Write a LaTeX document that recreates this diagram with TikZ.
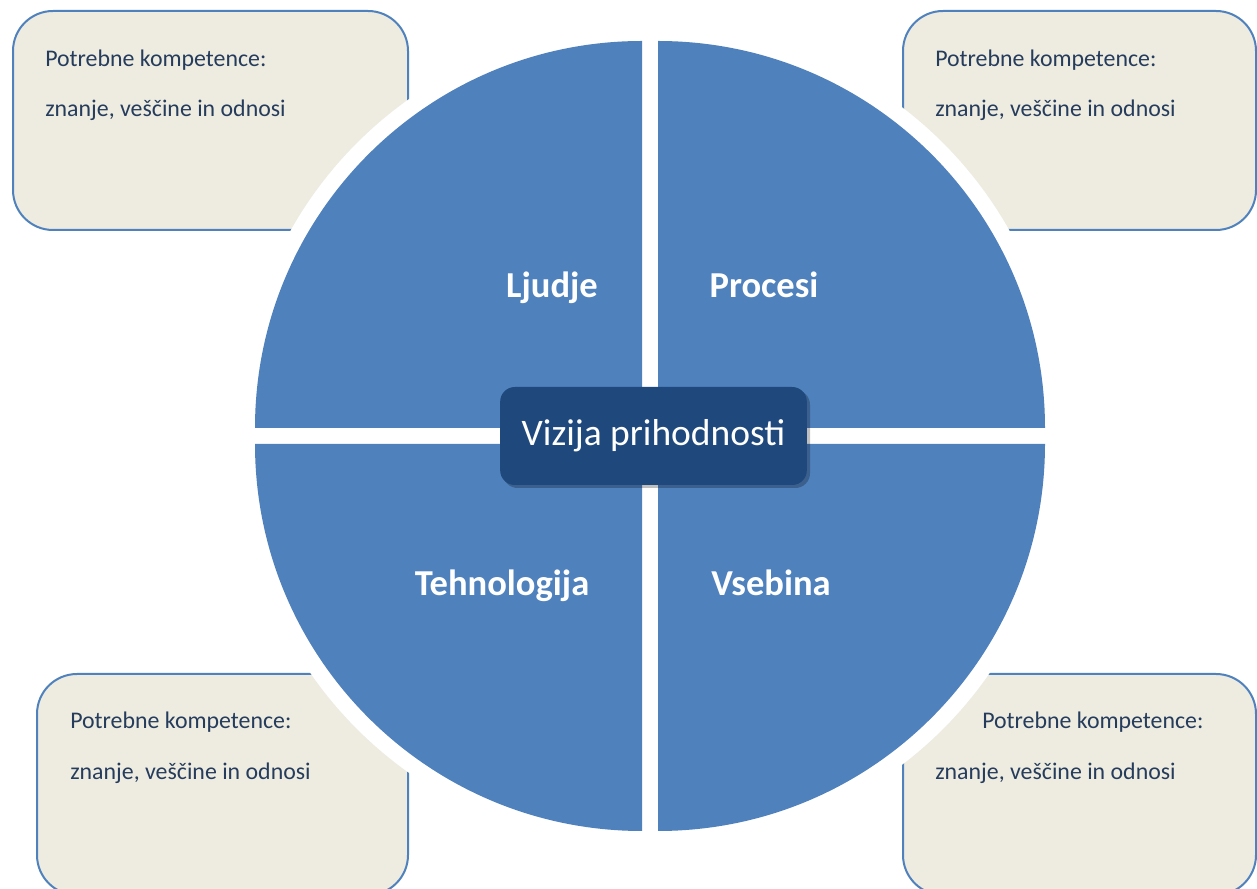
\documentclass[tikz,border=0pt]{standalone}
\usepackage{fontspec}
\setmainfont{Carlito}
\definecolor{slice}{HTML}{4F81BD}
\definecolor{boxfill}{HTML}{EEECE1}
\definecolor{boxtext}{HTML}{263C5C}
\definecolor{vision}{HTML}{1F497D}
\tikzset{
  compbox/.style={draw=slice, line width=1.5pt, fill=boxfill, rounded corners=30pt},
  comptext/.style={inner sep=0pt, anchor=base west, text=boxtext, font=\fontsize{17.9}{21}\selectfont},
  halo/.style={fill=white},
  quarter/.style={fill=slice},
  qlabel/.style={inner sep=0pt, anchor=base, text=white, font=\fontsize{27.4}{30}\selectfont\bfseries},
}
\begin{document}
\begin{tikzpicture}[x=0.75pt,y=0.75pt]
\useasboundingbox (0,0) rectangle (1257,889);
% competence boxes
\draw[compbox] (13,659) rectangle (408,878);
\draw[compbox] (903,659) rectangle (1256,878);
\draw[compbox] (37,-6) rectangle (408,215);
\draw[compbox] (903,-6) rectangle (1256,215);
% white halos
\fill[halo] (642,461) -- ++(-403,0) arc[start angle=180,end angle=90,radius=403] -- cycle;
\fill[halo] (658,461) -- ++(0,403) arc[start angle=90,end angle=0,radius=403] -- cycle;
\fill[halo] (642,445) -- ++(0,-403) arc[start angle=270,end angle=180,radius=403] -- cycle;
\fill[halo] (658,445) -- ++(403,0) arc[start angle=0,end angle=-90,radius=403] -- cycle;
% quarters
\fill[quarter] (642,461) -- ++(-387,0) arc[start angle=180,end angle=90,radius=387] -- cycle;
\fill[quarter] (658,461) -- ++(0,387) arc[start angle=90,end angle=0,radius=387] -- cycle;
\fill[quarter] (642,445) -- ++(0,-387) arc[start angle=270,end angle=180,radius=387] -- cycle;
\fill[quarter] (658,445) -- ++(387,0) arc[start angle=0,end angle=-90,radius=387] -- cycle;
% box texts
\node[comptext] (t1a) at (45,822) {Potrebne kompetence:};
\node[comptext] (t1b) at (45,772) {znanje, veščine in odnosi};
\node[comptext] (t2a) at (935,822) {Potrebne kompetence:};
\node[comptext] (t2b) at (935,772) {znanje, veščine in odnosi};
\node[comptext] (t3a) at (70,160) {Potrebne kompetence:};
\node[comptext] (t3b) at (70,109) {znanje, veščine in odnosi};
\node[comptext] (t4a) at (982,160) {Potrebne kompetence:};
\node[comptext] (t4b) at (935,109) {znanje, veščine in odnosi};
% quarter labels
\node[qlabel] (ljudje) at (552,591) {Ljudje};
\node[qlabel] (procesi) at (764,591) {Procesi};
\node[qlabel] (tehno) at (502,293) {Tehnologija};
\node[qlabel] (vsebina) at (771,293) {Vsebina};
% centre
\fill[black, opacity=0.25, rounded corners=11pt] (503,401) rectangle (810,499);
\node[fill=vision, rounded corners=11pt, minimum width=230pt, minimum height=73.5pt, inner sep=0pt,
      text=white, font=\fontsize{28.1}{30}\selectfont] (vizija) at (653.5,453) {Vizija prihodnosti};
\end{tikzpicture}
\end{document}
